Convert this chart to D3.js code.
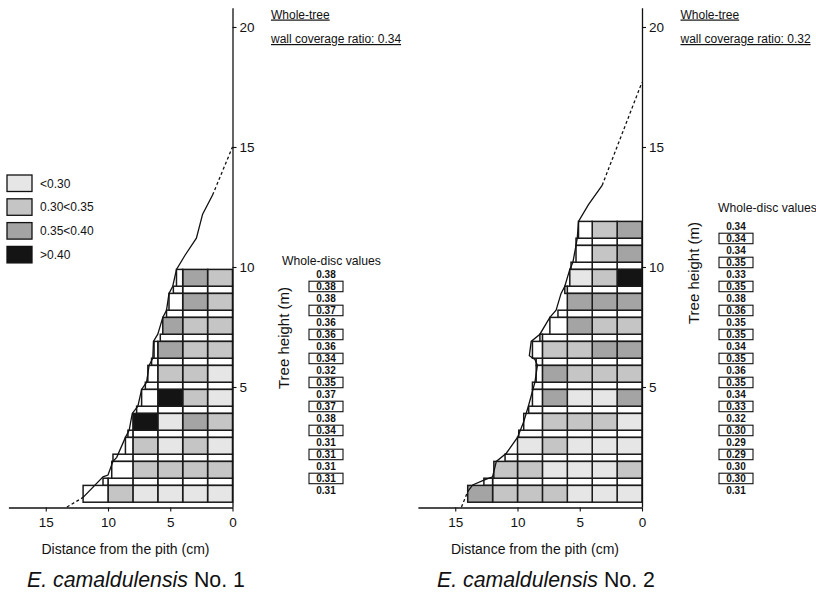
<!DOCTYPE html>
<html>
<head>
<meta charset="utf-8">
<script src="https://cdn.jsdelivr.net/npm/d3@7"></script>
<style>
  body { margin: 0; background: #ffffff; }
  svg { display: block; }
  text { font-family: "Liberation Sans", Arial, Helvetica, sans-serif; fill: #111; }
</style>
</head>
<body>
<svg id="chart" width="816" height="596"></svg>
<script>
// ---- Legend classes (wall coverage ratio) ----
const legendLabels = ["<0.30", "0.30<0.35", "0.35<0.40", ">0.40"];
const legendKeys = ["L", "M", "D", "B"];
const classFill = { W: "#ffffff", L: "#e6e6e6", M: "#c5c5c5", D: "#a4a4a4", B: "#141414" };

const xTickValues = [15, 10, 5, 0];
const yTickValues = [5, 10, 15, 20];

// ---- Tree No. 1 ----
const t1Name = "No. 1";
const t1Ratio = 0.34;
// bolts (sampled sections) bottom/top heights in m
const t1BoltBottom = [0.2, 1.2, 2.2, 3.2, 4.2, 5.2, 6.2, 7.2, 8.2, 9.2];
const t1BoltTop    = [0.9, 1.9, 2.9, 3.9, 4.9, 5.9, 6.9, 7.9, 8.9, 9.9];
// stem radius (cm) of each bolt, and of each gap between bolts
const t1BoltRadius = [12.0, 9.7, 8.6, 8.0, 7.3, 6.8, 6.3, 5.6, 5.1, 4.5];
const t1GapRadius  = [10.4, 9.6, 8.4, 7.7, 7.0, 6.5, 5.8, 5.3, 4.75];
// class of each 2-cm ring, pith outward
const t1Cells = ["LLLLMW", "MMMMW", "LMLMW", "MDLB", "LMBW", "LMMW", "MMDW", "MMD", "MDW", "MDW"];
// whole-disc values, bottom to top (bolt, gap, bolt, ...)
const t1Disc = [0.31, 0.31, 0.31, 0.31, 0.31, 0.34, 0.38, 0.37, 0.37, 0.35,
                0.32, 0.34, 0.36, 0.36, 0.36, 0.37, 0.38, 0.38, 0.38];
// stem profile [distance cm, height m]
const t1Profile = [[12.0, 0.4], [10.4, 1.26], [10.0, 1.33], [9.6, 1.9], [9.3, 2.07], [8.6, 2.9],
  [8.3, 3.2], [8.05, 3.9], [7.6, 4.2], [7.3, 4.9], [6.9, 5.2], [6.7, 5.9], [6.4, 6.2],
  [6.35, 6.9], [6.0, 7.2], [5.6, 7.9], [5.3, 8.2], [5.1, 8.9], [4.8, 9.2], [4.5, 9.9],
  [3.8, 10.5], [2.9, 11.2], [2.4, 12.2], [1.6, 13.0]];
const t1ProfileBase = [[13.3, 0], [12.0, 0.4]];
const t1ProfileTop = [[1.6, 13.0], [0, 15.0]];

// ---- Tree No. 2 ----
const t2Name = "No. 2";
const t2Ratio = 0.32;
const t2BoltBottom = [0.2, 1.2, 2.2, 3.2, 4.2, 5.2, 6.2, 7.2, 8.2, 9.2, 10.2, 11.2];
const t2BoltTop    = [0.9, 1.9, 2.9, 3.9, 4.9, 5.9, 6.9, 7.9, 8.9, 9.9, 10.9, 11.9];
const t2BoltRadius = [14.0, 11.9, 10.0, 9.5, 8.8, 8.5, 8.8, 7.4, 6.0, 5.8, 5.3, 5.1];
const t2GapRadius  = [12.7, 11.0, 9.9, 9.1, 8.8, 8.5, 8.2, 6.75, 6.2, 5.7, 5.3];
const t2Cells = ["LLLMMMD", "MLLLMM", "LLLML", "LMMMW", "DLLDW", "MMMDW", "DDMMW", "MMDW",
                 "DDD", "BML", "DMW", "DMW"];
const t2Disc = [0.31, 0.30, 0.30, 0.29, 0.29, 0.30, 0.32, 0.33, 0.34, 0.35, 0.36, 0.35,
                0.34, 0.35, 0.35, 0.36, 0.38, 0.35, 0.33, 0.35, 0.34, 0.34, 0.34];
const t2Profile = [[14.0, 0.64], [13.6, 0.92], [12.7, 1.12], [12.0, 1.26], [11.7, 1.9], [10.9, 2.24],
  [10.0, 2.9], [9.5, 3.55], [9.1, 4.25], [8.6, 5.2], [8.4, 5.9], [8.6, 6.15], [9.05, 6.3],
  [8.9, 6.9], [8.2, 7.2], [7.4, 7.9], [6.9, 8.2], [6.5, 8.9], [6.2, 9.2], [5.8, 9.9],
  [5.55, 10.2], [5.3, 10.9], [5.2, 11.2], [5.1, 11.9], [4.3, 12.6], [3.2, 13.4]];
const t2ProfileBase = [[14.5, 0], [14.0, 0.64]];
const t2ProfileTop = [[3.2, 13.4], [0, 17.7]];

const trees = [
  { name: t1Name, ratio: t1Ratio, boltBottom: t1BoltBottom, boltTop: t1BoltTop, boltRadius: t1BoltRadius,
    gapRadius: t1GapRadius, cells: t1Cells, disc: t1Disc, profile: t1Profile,
    profileBase: t1ProfileBase, profileTop: t1ProfileTop,
    axisX: 232.5, valueX: 326, headX: 282, headY: 265, heightLabelY: 338, titleX: 27 },
  { name: t2Name, ratio: t2Ratio, boltBottom: t2BoltBottom, boltTop: t2BoltTop, boltRadius: t2BoltRadius,
    gapRadius: t2GapRadius, cells: t2Cells, disc: t2Disc, profile: t2Profile,
    profileBase: t2ProfileBase, profileTop: t2ProfileTop,
    axisX: 642, valueX: 736, headX: 718, headY: 212, heightLabelY: 273, titleX: 437 }
];

const svg = d3.select("#chart");
svg.append("rect").attr("width", 816).attr("height", 596).attr("fill", "#ffffff");

const y = d3.scaleLinear().domain([0, 20.8]).range([507, 7.8]);
const PX_PER_CM = 12.45;
const gridStroke = "#1a1a1a";

trees.forEach(tree => {
  const x = d3.scaleLinear().domain([0, 18]).range([tree.axisX, tree.axisX - 18 * PX_PER_CM]);
  const g = svg.append("g");

  // gap rows between bolts (white cells)
  const gapCells = [];
  tree.gapRadius.forEach((r, i) => {
    const h0 = tree.boltTop[i], h1 = tree.boltBottom[i + 1];
    for (let d = 0; d < r - 1e-6; d += 2) {
      gapCells.push({ d0: d, d1: Math.min(d + 2, r), h0, h1, c: "W" });
    }
  });
  // bolt rows, coloured by ring class
  const boltCells = [];
  tree.cells.forEach((str, i) => {
    const r = tree.boltRadius[i];
    str.split("").forEach((c, j) => {
      boltCells.push({ d0: 2 * j, d1: Math.min(2 * j + 2, r), h0: tree.boltBottom[i], h1: tree.boltTop[i], c });
    });
  });

  g.selectAll("rect.cell")
    .data(gapCells.concat(boltCells))
    .join("rect")
    .attr("class", "cell")
    .attr("x", d => x(d.d1))
    .attr("y", d => y(d.h1))
    .attr("width", d => x(d.d0) - x(d.d1))
    .attr("height", d => y(d.h0) - y(d.h1))
    .attr("fill", d => classFill[d.c])
    .attr("stroke", gridStroke)
    .attr("stroke-width", 1.5);

  // stem profile
  const line = d3.line().x(d => x(d[0])).y(d => y(d[1]));
  g.append("path").attr("d", line(tree.profile))
    .attr("fill", "none").attr("stroke", "#111").attr("stroke-width", 1.3);
  [tree.profileBase, tree.profileTop].forEach(seg => {
    g.append("path").attr("d", line(seg))
      .attr("fill", "none").attr("stroke", "#111").attr("stroke-width", 1.3)
      .attr("stroke-dasharray", "3,2.5");
  });

  // x axis
  const xAxis = d3.axisBottom(x).tickValues(xTickValues).tickSize(4).tickSizeOuter(0).tickFormat(d3.format("d"));
  const gx = svg.append("g").attr("transform", `translate(0,${y(0) + 0.5})`).call(xAxis);
  gx.select(".domain").attr("stroke", "#111").attr("stroke-width", 1.3);
  gx.selectAll(".tick line").attr("stroke", "#111").attr("stroke-width", 1.1);
  gx.selectAll(".tick text").attr("font-size", 13.5).attr("y", 10).attr("dy", "0.71em")
    .attr("font-family", "'Liberation Sans', Arial, sans-serif").attr("fill", "#111");
  svg.append("text").attr("x", tree.axisX - 107).attr("y", 554).attr("text-anchor", "middle")
    .attr("font-size", 14).text("Distance from the pith (cm)");

  // y axis
  const yAxis = d3.axisRight(y).tickValues(yTickValues).tickSize(4).tickSizeOuter(0).tickFormat(d3.format("d"));
  const gy = svg.append("g").attr("transform", `translate(${tree.axisX},0)`).call(yAxis);
  gy.select(".domain").attr("stroke", "#111").attr("stroke-width", 1.3);
  gy.selectAll(".tick line").attr("stroke", "#111").attr("stroke-width", 1.1);
  gy.selectAll(".tick text").attr("font-size", 13.5).attr("x", 7)
    .attr("font-family", "'Liberation Sans', Arial, sans-serif").attr("fill", "#111");
  svg.append("text")
    .attr("transform", `translate(${tree.axisX + 51},${tree.heightLabelY}) rotate(-90)`)
    .attr("text-anchor", "middle").attr("dominant-baseline", "central")
    .attr("font-size", 15).text("Tree height (m)");

  // whole-tree ratio
  const hx = tree.axisX + 38.5;
  svg.append("text").attr("x", hx).attr("y", 18.5).attr("font-size", 12)
    .attr("text-decoration", "underline").text("Whole-tree");
  svg.append("text").attr("x", hx).attr("y", 43).attr("font-size", 12)
    .attr("text-decoration", "underline").text(`wall coverage ratio: ${tree.ratio.toFixed(2)}`);

  // whole-disc values column
  svg.append("text").attr("x", tree.headX).attr("y", tree.headY)
    .attr("font-size", 12.2).text("Whole-disc values");
  const vg = svg.append("g");
  const vy = i => y(0.7 + 0.5 * i);
  vg.selectAll("rect.vbox")
    .data(tree.disc.map((v, i) => ({ v, i })).filter(d => d.i % 2 === 1))
    .join("rect").attr("class", "vbox")
    .attr("x", tree.valueX - 17).attr("y", d => vy(d.i) - 5)
    .attr("width", 34).attr("height", 10.5)
    .attr("fill", "#fff").attr("stroke", "#111").attr("stroke-width", 1.1);
  vg.selectAll("text.val")
    .data(tree.disc.map((v, i) => ({ v, i })))
    .join("text").attr("class", "val")
    .attr("x", tree.valueX).attr("y", d => vy(d.i))
    .attr("text-anchor", "middle").attr("dominant-baseline", "central")
    .attr("font-size", 10).attr("font-weight", "bold")
    .text(d => d.v.toFixed(2));

  // tree title
  const title = svg.append("text").attr("x", tree.titleX).attr("y", 587).attr("font-size", 21.3);
  title.append("tspan").attr("font-style", "italic").text("E. camaldulensis");
  title.append("tspan").text(" " + tree.name);
});

// legend
const lg = svg.append("g");
legendKeys.forEach((k, i) => {
  lg.append("rect").attr("x", 7).attr("y", 175 + i * 23.8).attr("width", 25).attr("height", 16.5)
    .attr("fill", classFill[k]).attr("stroke", "#111").attr("stroke-width", 1.3);
  lg.append("text").attr("x", 40).attr("y", 183.5 + i * 23.8).attr("dominant-baseline", "central")
    .attr("font-size", 12).text(legendLabels[i]);
});
</script>
</body>
</html>
